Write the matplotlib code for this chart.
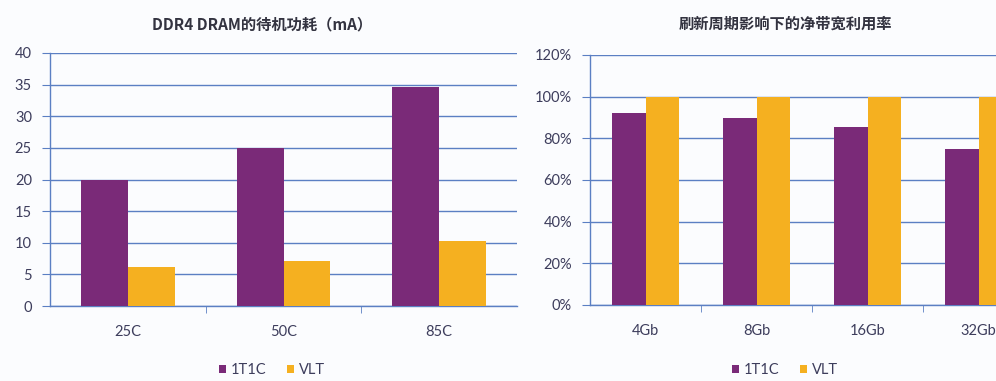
import matplotlib
matplotlib.use("Agg")
import matplotlib.pyplot as plt
from matplotlib.ticker import FixedLocator, FuncFormatter
import numpy as np

# ---- data ----
temp_labels = ["25C", "50C", "85C"]
power_1t1c = [20, 25, 34.7]
power_vlt = [6.1, 7.1, 10.2]

density_labels = ["4Gb", "8Gb", "16Gb", "32Gb"]
util_1t1c = [92, 90, 85.3, 75]
util_vlt = [100, 100, 100, 100]

series_names = ["1T1C", "VLT"]
title_left = "DDR4 DRAM的待机功耗（mA）"
title_right = "刷新周期影响下的净带宽利用率"

# ---- style ----
PURPLE = "#7a2a78"
ORANGE = "#f5b020"
BLUE = "#5b7fc3"
TXT = "#3d3d5c"
BG = "#fbfcfe"
TICKFONT = ["Lato", "DejaVu Sans"]
CJKFONT = ["Noto Sans CJK SC", "DejaVu Sans"]

fig = plt.figure(figsize=(9.96, 3.81), dpi=100, facecolor=BG)

W, H = 996, 381
def ax_rect(x0, y_top, x1, y_bot):
    return [x0 / W, 1 - y_bot / H, (x1 - x0) / W, (y_bot - y_top) / H]

axL = fig.add_axes(ax_rect(50, 53, 517, 306))
axR = fig.add_axes(ax_rect(590, 55, 1034, 305))

def style(ax, cats, s1, s2, ymax, step, fmt):
    x = np.arange(len(cats))
    w = 0.3
    ax.set_facecolor(BG)
    ax.bar(x - w / 2, s1, w, color=PURPLE, label=series_names[0], zorder=3)
    ax.bar(x + w / 2, s2, w, color=ORANGE, label=series_names[1], zorder=3)
    ax.set_xlim(-0.5, len(cats) - 0.5)
    ax.set_ylim(0, ymax)
    ax.set_yticks(np.arange(0, ymax + step / 2, step))
    ax.yaxis.set_major_formatter(FuncFormatter(fmt))
    ax.grid(axis="y", color=BLUE, linewidth=1.0)
    ax.set_axisbelow(True)
    for s in ["top", "right"]:
        ax.spines[s].set_visible(False)
    for s in ["left", "bottom"]:
        ax.spines[s].set_color(BLUE)
        ax.spines[s].set_linewidth(1.0)
    ax.set_xticks(x)
    ax.set_xticklabels(cats)
    ax.xaxis.set_minor_locator(FixedLocator(np.arange(0.5, len(cats) - 0.5, 1)))
    ax.tick_params(axis="x", which="major", length=0, pad=14, labelsize=10.5, labelcolor=TXT)
    ax.tick_params(axis="x", which="minor", length=5, color=BLUE, direction="out")
    ax.tick_params(axis="y", length=6, color=BLUE, pad=7, labelsize=10.5, labelcolor=TXT)
    for lab in ax.get_xticklabels() + ax.get_yticklabels():
        lab.set_family(TICKFONT)

style(axL, temp_labels, power_1t1c, power_vlt, 40, 5, lambda v, p: f"{v:.0f}")
style(axR, density_labels, util_1t1c, util_vlt, 120, 20, lambda v, p: f"{v:.0f}%")

fig.text(262 / W, 1 - 24 / H, title_left, ha="center", va="center",
         family=CJKFONT, fontweight="bold", fontsize=11, color="#333340")
fig.text(785 / W, 1 - 24 / H, title_right, ha="center", va="center",
         family=CJKFONT, fontweight="bold", fontsize=11, color="#333340")

for ax, cx in [(axL, 272), (axR, 785)]:
    h, l = ax.get_legend_handles_labels()
    fig.legend(h, l, loc="center", bbox_to_anchor=(cx / W, 1 - 370 / H), ncol=2,
               frameon=False, handlelength=0.5, handleheight=0.5, handletextpad=0.35,
               columnspacing=1.4, prop={"family": TICKFONT, "size": 10.5},
               labelcolor=TXT)

fig.savefig("out.png", dpi=100, facecolor=BG)
